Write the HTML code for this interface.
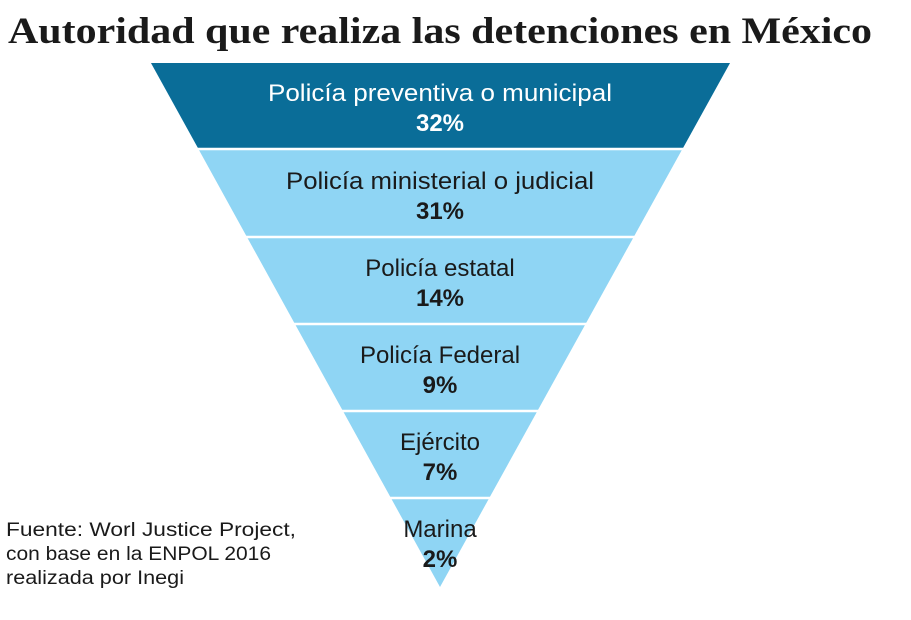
<!DOCTYPE html>
<html><head><meta charset="utf-8"><style>body{margin:0;background:#fff}svg{display:block}</style></head><body>
<svg width="911" height="620" xmlns="http://www.w3.org/2000/svg">
<text x="8" y="43" font-family="Liberation Serif, serif" font-weight="bold" font-size="37" fill="#1a1a1a" textLength="864" lengthAdjust="spacingAndGlyphs">Autoridad que realiza las detenciones en México</text>
<polygon points="151,63 730,63 440,587" fill="#8fd5f4"/>
<polygon points="151,63 730,63 683,148 198,148" fill="#0a6d98"/>
<g stroke="#fff" stroke-width="2.5">
<line x1="150" y1="149" x2="730" y2="149"/>
<line x1="150" y1="237" x2="730" y2="237"/>
<line x1="150" y1="324" x2="730" y2="324"/>
<line x1="150" y1="411" x2="730" y2="411"/>
<line x1="150" y1="498" x2="730" y2="498"/>
</g>
<g font-family="Liberation Sans, sans-serif" text-anchor="middle" font-size="24" fill="#1a1a1a">
<text x="440" y="101" fill="#fff" textLength="344" lengthAdjust="spacingAndGlyphs">Policía preventiva o municipal</text>
<text x="440" y="131" fill="#fff" font-weight="bold">32%</text>
<text x="440" y="189" textLength="308" lengthAdjust="spacingAndGlyphs">Policía ministerial o judicial</text>
<text x="440" y="219" font-weight="bold">31%</text>
<text x="440" y="276">Policía estatal</text>
<text x="440" y="306" font-weight="bold">14%</text>
<text x="440" y="363">Policía Federal</text>
<text x="440" y="393" font-weight="bold">9%</text>
<text x="440" y="450">Ejército</text>
<text x="440" y="480" font-weight="bold">7%</text>
<text x="440" y="537">Marina</text>
<text x="440" y="567" font-weight="bold">2%</text>
</g>
<g font-family="Liberation Sans, sans-serif" font-size="19" fill="#1a1a1a">
<text x="6" y="536" textLength="290" lengthAdjust="spacingAndGlyphs">Fuente: Worl Justice Project,</text>
<text x="6" y="560" textLength="265" lengthAdjust="spacingAndGlyphs">con base en la ENPOL  2016</text>
<text x="6" y="584" textLength="178" lengthAdjust="spacingAndGlyphs">realizada por Inegi</text>
</g>
</svg>
</body></html>
